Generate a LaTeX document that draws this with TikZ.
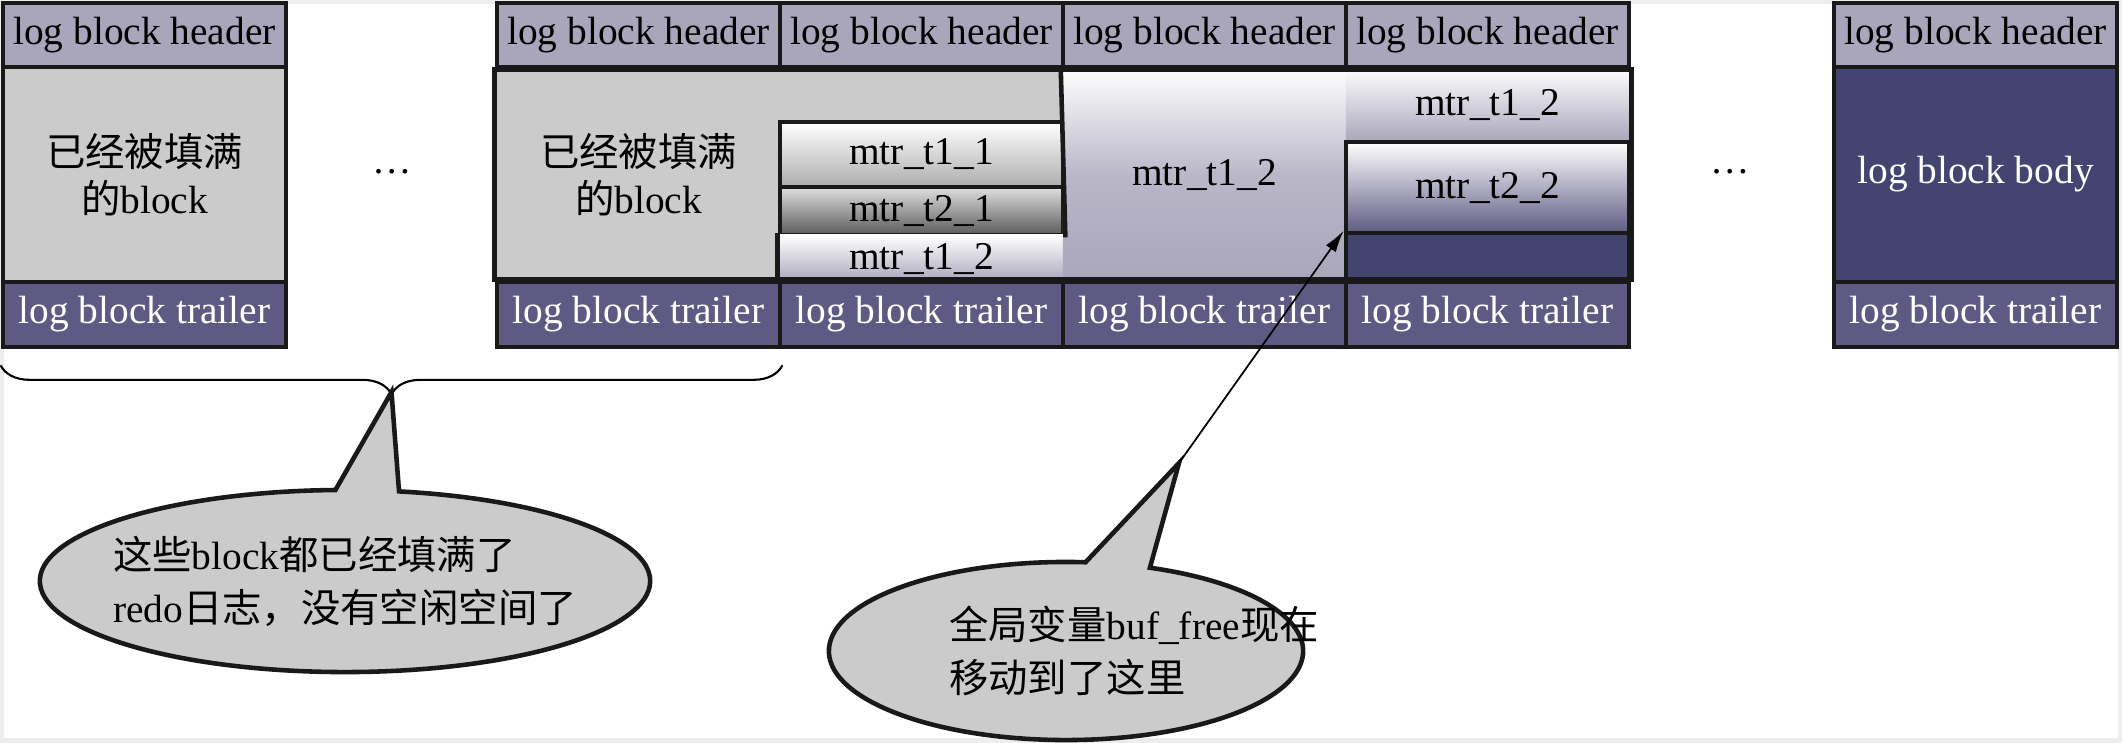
\documentclass[tikz,border=0pt]{standalone}
\usepackage{fontspec}
\setmainfont{Liberation Serif}
\newfontfamily\cjk{Noto Sans CJK SC}
\usetikzlibrary{shapes.callouts,decorations.pathreplacing,arrows.meta}
\definecolor{lavande}{HTML}{A9A5BB}
\definecolor{violetfonce}{HTML}{5E5A83}
\definecolor{bleunuit}{HTML}{434470}
\definecolor{grisclair}{HTML}{CBCBCB}
\definecolor{grisfonce}{HTML}{5A5A5A}
\begin{document}
\begin{tikzpicture}[x=0.01cm,y=-0.01cm,font=\fontsize{11.2}{13.4}\selectfont]
	\tikzstyle{bord}=[draw=black!90,line width=1.3pt]
	\tikzstyle{case}=[rectangle,bord,inner sep=0pt,minimum width=2.83cm]
	\tikzstyle{entete}=[case,fill=lavande,minimum height=0.64cm]
	\tikzstyle{queue}=[case,fill=violetfonce,text=white,minimum height=0.65cm]
	\tikzstyle{corps}=[case,minimum height=2.15cm,align=center]
	\tikzstyle{mtr}=[case,top color=white]
	\tikzstyle{bulle}=[ellipse callout,bord,fill=grisclair,inner sep=0pt]
	\tikzstyle{fleche}=[-{Latex[length=0.22cm,width=0.12cm]},line width=0.5pt]
	\tikzstyle{accolade}=[decorate,decoration={brace,mirror,amplitude=0.29cm},line width=0.6pt]
	\def\TexteBulle#1#2{\smash{\makebox[0pt]{\hspace{#1}\raisebox{-0.14cm}{\def\arraystretch{1.12}\begin{tabular}{@{}l@{}}#2\end{tabular}}}}}
	\useasboundingbox (0,0) rectangle (2122,742);
	\draw[black!7,line width=0.08cm] (0,0) rectangle (2122,742);
	% corps des blocs
	\node[corps,fill=grisclair] (C1) at (144.5,174.5) {{\cjk 已经被填满}\\{\cjk 的}block};
	\node[corps,fill=grisclair,draw=none] (C2) at (638.5,174.5) {{\cjk 已经被填满}\\{\cjk 的}block};
	\fill[grisclair] (780,67) rectangle (1063,122);
	\node[mtr,bottom color=grisclair!85!black,minimum height=0.65cm] (M1) at (921.5,154.5) {mtr\_t1\_1};
	\node[mtr,top color=grisclair!60!white,bottom color=grisfonce,minimum height=0.48cm] (M2) at (921.5,211) {mtr\_t2\_1};
	\node[mtr,draw=none,bottom color=lavande,minimum height=0.47cm] (M3) at (921.5,258.5) {mtr\_t1\_2};
	\draw[bord] (M3.north west) -- (M3.south west);
	\node[corps,draw=none,top color=white,bottom color=lavande,middle color=lavande!80!white] (C4) at (1204.5,174.5) {mtr\_t1\_2};
	\draw[bord] (C4.north west) -- (M2.south east);
	\node[mtr,draw=none,bottom color=lavande,minimum height=0.75cm] (M4) at (1487.5,104.5) {mtr\_t1\_2};
	\node[mtr,bottom color=violetfonce,minimum height=0.91cm] (M5) at (1487.5,187.5) {mtr\_t2\_2};
	\node[case,fill=bleunuit,minimum height=0.49cm] (D5) at (1487.5,257.5) {};
	\node[corps,fill=bleunuit,text=white] (C6) at (1975.5,174.5) {log block body};
	% en-tetes et queues
	\node[entete] (E1) at (144.5,35) {log block header};
	\node[entete] (E2) at (638.5,35) {log block header};
	\node[entete] (E3) at (921.5,35) {log block header};
	\node[entete] (E4) at (1204.5,35) {log block header};
	\node[entete] (E5) at (1487.5,35) {log block header};
	\node[entete] (E6) at (1975.5,35) {log block header};
	\node[queue] (Q1) at (144.5,314.5) {log block trailer};
	\node[queue] (Q2) at (638.5,314.5) {log block trailer};
	\node[queue] (Q3) at (921.5,314.5) {log block trailer};
	\node[queue] (Q4) at (1204.5,314.5) {log block trailer};
	\node[queue] (Q5) at (1487.5,314.5) {log block trailer};
	\node[queue] (Q6) at (1975.5,314.5) {log block trailer};
	\draw[bord] (E2.south west) rectangle (Q5.north east);
	\node (P1) at (392,172) {\ldots};
	\node (P2) at (1730,172) {\ldots};
	% accolade et bulles
	\draw[accolade] ([yshift=-0.16cm]Q1.south west) -- ([yshift=-0.16cm]Q2.south east);
	\coordinate (PointeAccolade) at (391.5,392);
	\coordinate (PointeBulle) at (1179,463);
	\node[bulle,minimum width=6.1cm,minimum height=1.82cm,callout absolute pointer={(PointeAccolade)},callout pointer arc=12] (B1) at (345,581) {\TexteBulle{0cm}{{\cjk 这些}block{\cjk 都已经填满了}\\redo{\cjk 日志，没有空闲空间了}}};
	\node[bulle,minimum width=4.74cm,minimum height=1.78cm,callout absolute pointer={(PointeBulle)},callout pointer arc=16] (B2) at (1066,651) {\TexteBulle{1.36cm}{{\cjk 全局变量}buf\_free{\cjk 现在}\\{\cjk 移动到了这里}}};
	\draw[fleche] (PointeBulle) -- (D5.north west);
\end{tikzpicture}
\end{document}
